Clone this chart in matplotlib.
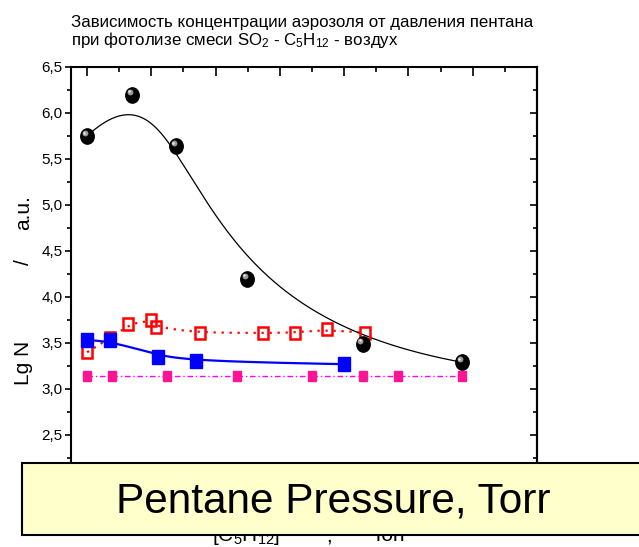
import numpy as np
import matplotlib
matplotlib.use("Agg")
import matplotlib.pyplot as plt
from matplotlib.markers import MarkerStyle
from matplotlib.transforms import Affine2D, offset_copy
from matplotlib.patches import Rectangle
from matplotlib.ticker import MultipleLocator, FuncFormatter

plt.rcParams['font.family'] = ['Liberation Sans', 'DejaVu Sans']
plt.rcParams['mathtext.fontset'] = 'custom'
plt.rcParams['mathtext.rm'] = 'Liberation Sans'
plt.rcParams['mathtext.it'] = 'Liberation Sans'

# Pentane pressure (Torr) and log aerosol concentration for each series
ball_x = [0.0, 7.0, 13.9, 24.9, 42.9, 58.4]
ball_y = [5.75, 6.20, 5.64, 4.20, 3.49, 3.29]

red_x = [0.0, 3.6, 6.4, 9.9, 10.8, 17.5, 27.3, 32.3, 37.4, 43.3]
red_y = [3.40, 3.55, 3.71, 3.75, 3.67, 3.61, 3.61, 3.61, 3.65, 3.61]

blue_x = [0.0, 3.5, 11.0, 17.0, 39.9]
blue_y = [3.53, 3.53, 3.35, 3.30, 3.27]

pink_x = [0.0, 3.95, 12.4, 23.4, 35.0, 42.9, 48.4, 58.3]
pink_y = [3.14, 3.14, 3.14, 3.14, 3.14, 3.14, 3.14, 3.14]


def bspline(xs, ys, n=300, k=3):
    """Clamped B-spline using the data points as control points."""
    xs = np.asarray(xs, float)
    ys = np.asarray(ys, float)
    m = len(xs)
    k = min(k, m - 1)
    knots = np.concatenate([np.zeros(k), np.linspace(0, 1, m - k + 1), np.ones(k)])
    t = np.linspace(0, 1, n)
    t[-1] = 1 - 1e-12
    B = np.zeros((n, len(knots) - 1))
    for i in range(len(knots) - 1):
        B[:, i] = (t >= knots[i]) & (t < knots[i + 1])
    for d in range(1, k + 1):
        Bn = np.zeros((n, len(knots) - 1 - d))
        for i in range(len(knots) - 1 - d):
            a = knots[i + d] - knots[i]
            b = knots[i + d + 1] - knots[i + 1]
            term = np.zeros(n)
            if a > 0:
                term += (t - knots[i]) / a * B[:, i]
            if b > 0:
                term += (knots[i + d + 1] - t) / b * B[:, i + 1]
            Bn[:, i] = term
        B = Bn
    return B @ xs, B @ ys


fig = plt.figure(figsize=(6.39, 5.47), dpi=100)
W, H = 639, 547
ax = fig.add_axes([71 / W, 1 - 481 / H, 466 / W, 414 / H])
ax.set_xlim(-2.5, 70)
ax.set_ylim(2.0, 6.5)

for s in ax.spines.values():
    s.set_linewidth(1.5)

# y axis: outward ticks on the left, comma decimals
ax.yaxis.set_major_locator(MultipleLocator(0.5))
ax.yaxis.set_minor_locator(MultipleLocator(0.25))
ax.yaxis.set_major_formatter(FuncFormatter(lambda v, p: f"{v:.1f}".replace('.', ',')))
ax.tick_params(axis='y', which='major', direction='out', length=4.5, width=1.2,
               labelsize=11, pad=1.5)
ax.tick_params(axis='y', which='minor', direction='out', length=3, width=1.2)

# x axis ticks drawn along the top, pointing inward
ax.xaxis.set_major_locator(MultipleLocator(10))
ax.xaxis.set_minor_locator(MultipleLocator(5))
ax.xaxis.tick_top()
ax.tick_params(axis='x', which='major', direction='in', length=6.5, width=1.2, labeltop=False)
ax.tick_params(axis='x', which='minor', direction='in', length=3.6, width=1.2)

right = ax.secondary_yaxis('right')
right.yaxis.set_major_locator(MultipleLocator(0.5))
right.yaxis.set_minor_locator(MultipleLocator(0.25))
right.tick_params(which='major', direction='in', length=5, width=1.2, labelright=False)
right.tick_params(which='minor', direction='in', length=3, width=1.2)
right.spines['right'].set_linewidth(1.5)

sq = MarkerStyle('s', transform=Affine2D().scale(0.86, 1.0))
ball = MarkerStyle('o', transform=Affine2D().scale(0.88, 1.0))

# magenta series
px, py = bspline(pink_x, pink_y)
ax.plot(px, py, color='#FF00FF', lw=1.0, ls=(0, (4, 2, 1, 2)), zorder=2)
ax.plot(pink_x, pink_y, ls='none', marker=sq, ms=7.5, color='#FF1493',
        mec='#FF1493', zorder=3)

# red open squares
rx, ry = bspline(red_x, red_y)
ax.plot(rx, ry, color='#FF0000', lw=1.6, ls=(0, (1, 2.6)), zorder=2)
ax.plot(red_x, red_y, ls='none', marker=sq, ms=8.5, mfc='none', mec='#FF0000',
        mew=1.8, zorder=4)

# blue filled squares
bx, by = bspline(blue_x, blue_y)
ax.plot(bx, by, color='#0000FF', lw=1.6, zorder=2)
ax.plot(blue_x, blue_y, ls='none', marker=sq, ms=10, color='#0000FF', zorder=5)

# black spheres with smoothed line
kx, ky = bspline(ball_x, ball_y)
ax.plot(kx, ky, color='black', lw=0.9, zorder=2)
ax.plot(ball_x, ball_y, ls='none', marker=ball, ms=11, color='black', zorder=6)
hl = offset_copy(ax.transData, fig=fig, x=-2.5, y=3.0, units='dots')
ax.plot(ball_x, ball_y, ls='none', marker='o', ms=4.2, color='#9a9a9a',
        mec='none', transform=hl, zorder=7)
hl2 = offset_copy(ax.transData, fig=fig, x=-3.0, y=3.5, units='dots')
ax.plot(ball_x, ball_y, ls='none', marker='o', ms=1.8, color='#e8e8e8',
        mec='none', transform=hl2, zorder=8)

# title
tkw = dict(fontsize=12.2, ha='left', va='baseline')
fig.text(71 / W, 1 - 26.7 / H, "Зависимость концентрации аэрозоля от давления пентана", **tkw)
fig.text(71 / W, 1 - 45 / H,
         r"при фотолизе смеси SO$_2$ - C$_5$H$_{12}$ - воздух", **tkw)

# y axis label pieces
ykw = dict(fontsize=15, rotation=90, ha='center', va='center')
fig.text(23.5 / W, 1 - 363 / H, "Lg N", **ykw)
fig.text(23.5 / W, 1 - 262 / H, "/", **ykw)
fig.text(23.5 / W, 1 - 213 / H, "a.u.", **ykw)

# x axis label pieces, mostly covered by the caption box
xkw = dict(fontsize=15, ha='left', va='baseline', zorder=1)
fig.text(212 / W, 1 - 541 / H, r"[C$_5$H$_{12}$]", **xkw)
fig.text(326 / W, 1 - 541 / H, ",", **xkw)
fig.text(371 / W, 1 - 541 / H, "Torr", **xkw)

# caption box
box = Rectangle((22 / W, 1 - 535 / H), 700 / W, 72 / H, transform=fig.transFigure,
                facecolor='#FFFFCC', edgecolor='black', lw=1.5, zorder=10)
fig.add_artist(box)
fig.text(333 / W, 1 - 512 / H, "Pentane Pressure, Torr", fontsize=30.5,
         ha='center', va='baseline', zorder=11)

fig.savefig("out.png", dpi=100)
